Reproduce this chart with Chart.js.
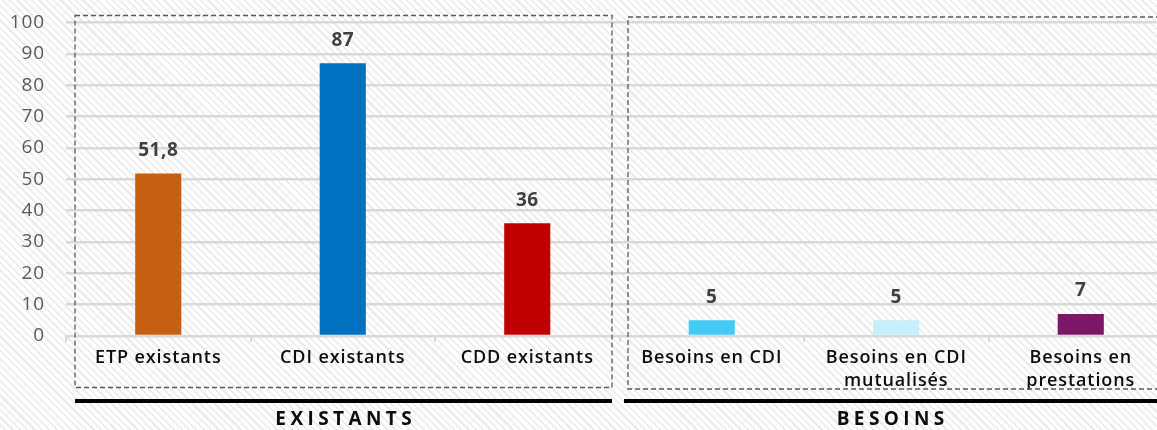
<!DOCTYPE html>
<html lang="fr">
<head>
<meta charset="utf-8">
<title>Effectifs existants et besoins</title>
<script src="https://cdn.jsdelivr.net/npm/chart.js@4/dist/chart.umd.min.js"></script>
<style>
  html, body { margin: 0; padding: 0; }
  body {
    width: 1157px; height: 430px; overflow: hidden;
    background-color: #ffffff;
    background-image: repeating-linear-gradient(45deg, #ffffff 0px, #ffffff 3.2px, #ebebeb 3.2px, #ebebeb 4.8px, #ffffff 4.8px, #ffffff 5.2px);
  }
  #wrap { width: 1157px; height: 430px; overflow: hidden; position: relative; }
  canvas { display: block; }
</style>
</head>
<body>
<div id="wrap"><canvas id="chart" width="1180" height="430"></canvas></div>
<script>
// Catégories (axe horizontal)
const categories = [
  'ETP existants',
  'CDI existants',
  'CDD existants',
  'Besoins en CDI',
  ['Besoins en CDI', 'mutualisés'],
  ['Besoins en', 'prestations']
];
// Valeurs des barres
const values = [51.8, 87, 36, 5, 5, 7];
// Couleurs des barres
const barColors = ['#C55F12', '#0070C0', '#C00000', '#45C9F6', '#C6EEFB', '#7A1769'];
// Groupes de catégories : [libellé, première catégorie, dernière catégorie]
const groups = [
  ['EXISTANTS', 0, 2],
  ['BESOINS', 3, 5]
];
// Graduations de l'axe vertical
const yTicks = [0, 10, 20, 30, 40, 50, 60, 70, 80, 90, 100];

const FONT = '"Open Sans", "Noto Sans", sans-serif';
const fmt = v => String(v).replace('.', ',');

// Léger espacement des lettres pour les textes des axes
const textSpacing = {
  id: 'textSpacing',
  beforeDraw(chart) {
    if ('letterSpacing' in chart.ctx) chart.ctx.letterSpacing = '0.9px';
  }
};

// Étiquettes de valeur au-dessus des barres
const valueLabels = {
  id: 'valueLabels',
  afterDatasetsDraw(chart) {
    const ctx = chart.ctx;
    const meta = chart.getDatasetMeta(0);
    ctx.save();
    if ('letterSpacing' in ctx) ctx.letterSpacing = '0.5px';
    ctx.font = '700 19px ' + FONT;
    ctx.fillStyle = '#404040';
    ctx.textAlign = 'center';
    ctx.textBaseline = 'middle';
    meta.data.forEach((bar, i) => {
      ctx.fillText(fmt(values[i]), bar.x, bar.y - 23);
    });
    ctx.restore();
  }
};

// Texte avec espacement des lettres
function drawSpaced(ctx, text, cx, cy, spacing) {
  const widths = [...text].map(c => ctx.measureText(c).width);
  const total = widths.reduce((a, b) => a + b, 0) + spacing * (text.length - 1);
  let x = cx - total / 2;
  ctx.textAlign = 'left';
  [...text].forEach((c, i) => {
    ctx.fillText(c, x, cy);
    x += widths[i] + spacing;
  });
}

// Cadres pointillés, traits noirs et titres des groupes
const groupFrames = {
  id: 'groupFrames',
  afterDraw(chart) {
    const ctx = chart.ctx;
    const x = chart.scales.x;
    const y = chart.scales.y;
    const half = (x.getPixelForValue(1) - x.getPixelForValue(0)) / 2;
    const top = y.getPixelForValue(100);
    ctx.save();
    if ('letterSpacing' in ctx) ctx.letterSpacing = '0px';
    groups.forEach(([label, a, b], gi) => {
      const left = x.getPixelForValue(a) - half;
      const right = x.getPixelForValue(b) + half;
      const bx0 = gi === 0 ? left + 9 : left + 8.5;
      const bx1 = gi === 0 ? right - 7.5 : right - 9;
      const by0 = gi === 0 ? top - 7 : top - 5.5;
      const by1 = gi === 0 ? 387.5 : 389;
      // cadre pointillé
      ctx.setLineDash([5, 3]);
      ctx.lineWidth = 1.3;
      ctx.strokeStyle = '#595959';
      ctx.strokeRect(bx0, by0, bx1 - bx0, by1 - by0);
      // trait noir
      ctx.setLineDash([]);
      ctx.lineWidth = 4;
      ctx.strokeStyle = '#000000';
      const lx0 = gi === 0 ? left + 9 : left + 4.5;
      const lx1 = gi === 0 ? right - 7.5 : right;
      ctx.beginPath();
      ctx.moveTo(lx0, 401);
      ctx.lineTo(lx1, 401);
      ctx.stroke();
      // titre
      ctx.font = '700 19px ' + FONT;
      ctx.fillStyle = '#0d0d0d';
      ctx.textBaseline = 'middle';
      const cx = gi === 0 ? (lx0 + lx1) / 2 : (lx0 + 1157) / 2;
      drawSpaced(ctx, label, cx, 420, 4.4);
    });
    ctx.restore();
  }
};

new Chart(document.getElementById('chart'), {
  type: 'bar',
  data: {
    labels: categories,
    datasets: [{
      data: values,
      backgroundColor: barColors,
      borderWidth: 0,
      categoryPercentage: 1,
      barPercentage: 0.25
    }]
  },
  options: {
    responsive: false,
    animation: false,
    devicePixelRatio: 1,
    layout: { padding: { top: 22.5, right: 7, bottom: 0, left: 0 } },
    plugins: {
      legend: { display: false },
      tooltip: { enabled: false }
    },
    scales: {
      x: {
        offset: true,
        grid: {
          offset: true,
          drawOnChartArea: false,
          drawTicks: true,
          tickLength: 6,
          color: '#d9d9d9',
          lineWidth: 2
        },
        border: { display: false },
        ticks: {
          autoSkip: false,
          maxRotation: 0,
          minRotation: 0,
          padding: 4,
          color: '#0d0d0d',
          font: { family: FONT, size: 18, weight: '600', lineHeight: 1.28 }
        },
        afterFit(scale) { scale.height = 94; }
      },
      y: {
        min: 0,
        max: 100,
        afterBuildTicks(scale) { scale.ticks = yTicks.map(v => ({ value: v })); },
        grid: {
          color: '#d9d9d9',
          lineWidth: 2.5,
          drawTicks: true,
          tickLength: 19,
          tickColor: 'rgba(0,0,0,0)'
        },
        border: { display: false },
        ticks: {
          padding: 2,
          color: '#595959',
          font: { family: FONT, size: 19, weight: '400' }
        },
        afterFit(scale) { scale.width = 66; }
      }
    }
  },
  plugins: [textSpacing, valueLabels, groupFrames]
});
</script>
</body>
</html>
